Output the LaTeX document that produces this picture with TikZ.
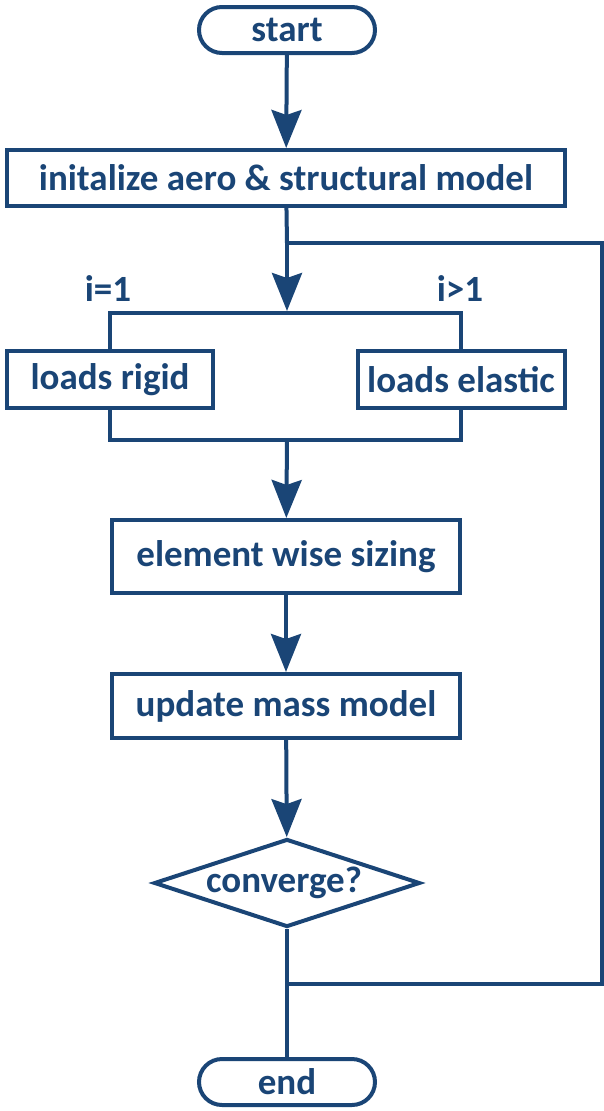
\documentclass[tikz,border=0pt]{standalone}
\usepackage{fontspec}
\setmainfont{Carlito}
\usetikzlibrary{arrows.meta,shapes.geometric}
\definecolor{flowblue}{RGB}{26,69,118}
\begin{document}
\begin{tikzpicture}[x=1pt,y=-1pt,
  flow/.style={draw=flowblue, line width=4pt},
  box/.style={flow, fill=white, text=flowblue, inner sep=0pt,
    font=\fontsize{37}{44}\selectfont\bfseries},
  terminal/.style={box, rounded corners=23pt, minimum width=176pt, minimum height=46pt},
  decision/.style={box, diamond, aspect=2.9, minimum width=266pt, minimum height=88pt},
  caselabel/.style={text=flowblue, font=\fontsize{37}{44}\selectfont\bfseries, inner sep=0pt},
  arr/.style={flow, -{Stealth[width=30pt,length=38pt,inset=5pt]}},
  line/.style={flow}]
\useasboundingbox (0,0) rectangle (604,1111);

% process steps
\node[terminal] (start) at (287,30) {start};
\node[box, minimum width=558pt, minimum height=56pt] (init) at (286,178) {initalize aero \& structural model};
\node[box, minimum width=206pt, minimum height=57pt] (rigid) at (110,379.5) {loads rigid};
\node[box, minimum width=207pt, minimum height=57pt] (elastic) at (461,379.5) {loads elastic};
\node[box, minimum width=348pt, minimum height=73pt] (sizing) at (286,556.5) {element wise sizing};
\node[box, minimum width=348pt, minimum height=64pt] (mass) at (286,706) {update mass model};
\node[decision] (conv) at (287,883) {\hspace*{-6pt}converge?};
\node[terminal] (end) at (287,1082) {end};

% branch labels
\node[caselabel] (lone) at (108,289) {i=1};
\node[caselabel] (lgt) at (460,289) {i>1};

% junction points
\coordinate (loopin) at (287,243);
\coordinate (loopout) at (287,984);
\coordinate (splittop) at (287,313);
\coordinate (splitbot) at (287,440);
\coordinate (rtop) at (602,243);
\coordinate (rbot) at (602,984);

% main flow
\draw[arr] (start) -- (init);
\draw[line] (init) -- (loopin);
\draw[arr, shorten >=2pt] (loopin) -- (splittop);

% branch into the two load cases and merge again
\draw[line] (rigid.north) -- (rigid.north |- splittop) -- (elastic.north |- splittop) -- (elastic.north);
\draw[line] (rigid.south) -- (rigid.south |- splitbot) -- (elastic.south |- splitbot) -- (elastic.south);

\draw[arr] (splitbot) -- (sizing);
\draw[arr] (sizing) -- (mass);
\draw[arr] (mass) -- (conv);
\draw[line] (conv) -- (end);

% iteration loop back to the load computation
\draw[line] (loopout) -- (rbot) -- (rtop) -- (loopin);
\end{tikzpicture}
\end{document}
